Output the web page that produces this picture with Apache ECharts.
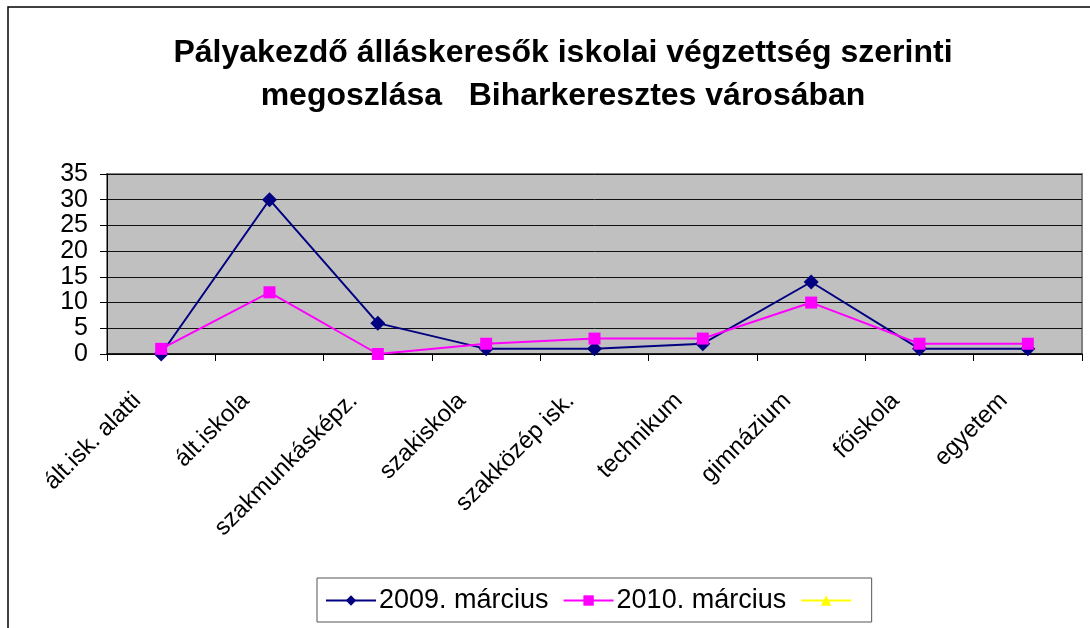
<!DOCTYPE html>
<html style="height: 100%">
<head>
    <meta charset="utf-8">
</head>
<body style="height: 100%; margin: 0; background: #fff;">
    <div id="container" style="width: 1090px; height: 628px;"></div>
    <script type="text/javascript" src="https://cdn.jsdelivr.net/npm/echarts@6/dist/echarts.min.js"></script>
    <script type="text/javascript">
        // kategóriák és értékek
        var categories = ['ált.isk. alatti', 'ált.iskola', 'szakmunkásképz.', 'szakiskola', 'szakközép isk.', 'technikum', 'gimnázium', 'főiskola', 'egyetem'];
        var values2009 = [0, 30, 6, 1, 1, 2, 14, 1, 1];
        var values2010 = [1, 12, 0, 2, 3, 3, 10, 2, 2];
        var valuesEmpty = [];
        var yTicks = [0, 5, 10, 15, 20, 25, 30, 35];

        var font = 'Liberation Sans, Arial, sans-serif';
        var myChart = echarts.init(document.getElementById('container'));

        var option = {
            animation: false,
            textStyle: { fontFamily: font },
            title: {
                text: 'Pályakezdő álláskeresők iskolai végzettség szerinti\nmegoszlása   Biharkeresztes városában',
                left: 558,
                textAlign: 'center',
                top: 27,
                textStyle: {
                    fontFamily: font,
                    fontSize: 32,
                    fontWeight: 'bold',
                    color: '#000',
                    lineHeight: 43
                }
            },
            graphic: [{
                type: 'rect',
                shape: { x: 8, y: 7, width: 1200, height: 800 },
                style: { fill: null, stroke: '#000', lineWidth: 1.5 },
                silent: true
            }],
            legend: {
                left: 317,
                top: 578,
                padding: [9, 10, 8, 8],
                borderColor: '#555',
                borderWidth: 1,
                itemWidth: 50,
                itemHeight: 13,
                itemGap: 14,
                textStyle: { fontFamily: font, fontSize: 27, color: '#000', padding: [0, 0, 0, -2] },
                data: ['2009. március', '2010. március', ' ']
            },
            grid: {
                left: 107,
                right: 8,
                top: 174,
                bottom: 274,
                show: true,
                backgroundColor: '#c0c0c0',
                borderColor: '#808080',
                borderWidth: 2
            },
            xAxis: {
                type: 'category',
                data: categories,
                boundaryGap: true,
                axisLine: { lineStyle: { color: '#000', width: 1.5 } },
                axisTick: { show: true, length: 7, lineStyle: { color: '#000' } },
                axisLabel: {
                    rotate: 45,
                    interval: 0,
                    margin: 19,
                    padding: [0, 34, 0, 0],
                    fontSize: 24,
                    color: '#000',
                    fontFamily: font
                },
                splitLine: { show: false }
            },
            yAxis: {
                type: 'value',
                min: yTicks[0],
                max: yTicks[yTicks.length - 1],
                interval: 5,
                axisLine: { show: true, lineStyle: { color: '#000', width: 1 } },
                axisTick: { show: true, length: 7, lineStyle: { color: '#000' } },
                axisLabel: {
                    fontSize: 25,
                    color: '#000',
                    margin: 19,
                    fontFamily: font
                },
                splitLine: { show: true, lineStyle: { color: '#111', width: 1 } }
            },
            series: [
                {
                    name: '2009. március',
                    type: 'line',
                    data: values2009,
                    symbol: 'diamond',
                    symbolSize: 15,
                    itemStyle: { color: '#000080' },
                    lineStyle: { color: '#000080', width: 2 },
                    z: 2
                },
                {
                    name: '2010. március',
                    type: 'line',
                    data: values2010,
                    symbol: 'rect',
                    symbolSize: 12,
                    itemStyle: { color: '#ff00ff' },
                    lineStyle: { color: '#ff00ff', width: 2 },
                    z: 3
                },
                {
                    name: ' ',
                    type: 'line',
                    data: valuesEmpty,
                    symbol: 'triangle',
                    symbolSize: 14,
                    itemStyle: { color: '#ffff00' },
                    lineStyle: { color: '#ffff00', width: 2 }
                }
            ]
        };

        myChart.setOption(option);
    </script>
</body>
</html>
